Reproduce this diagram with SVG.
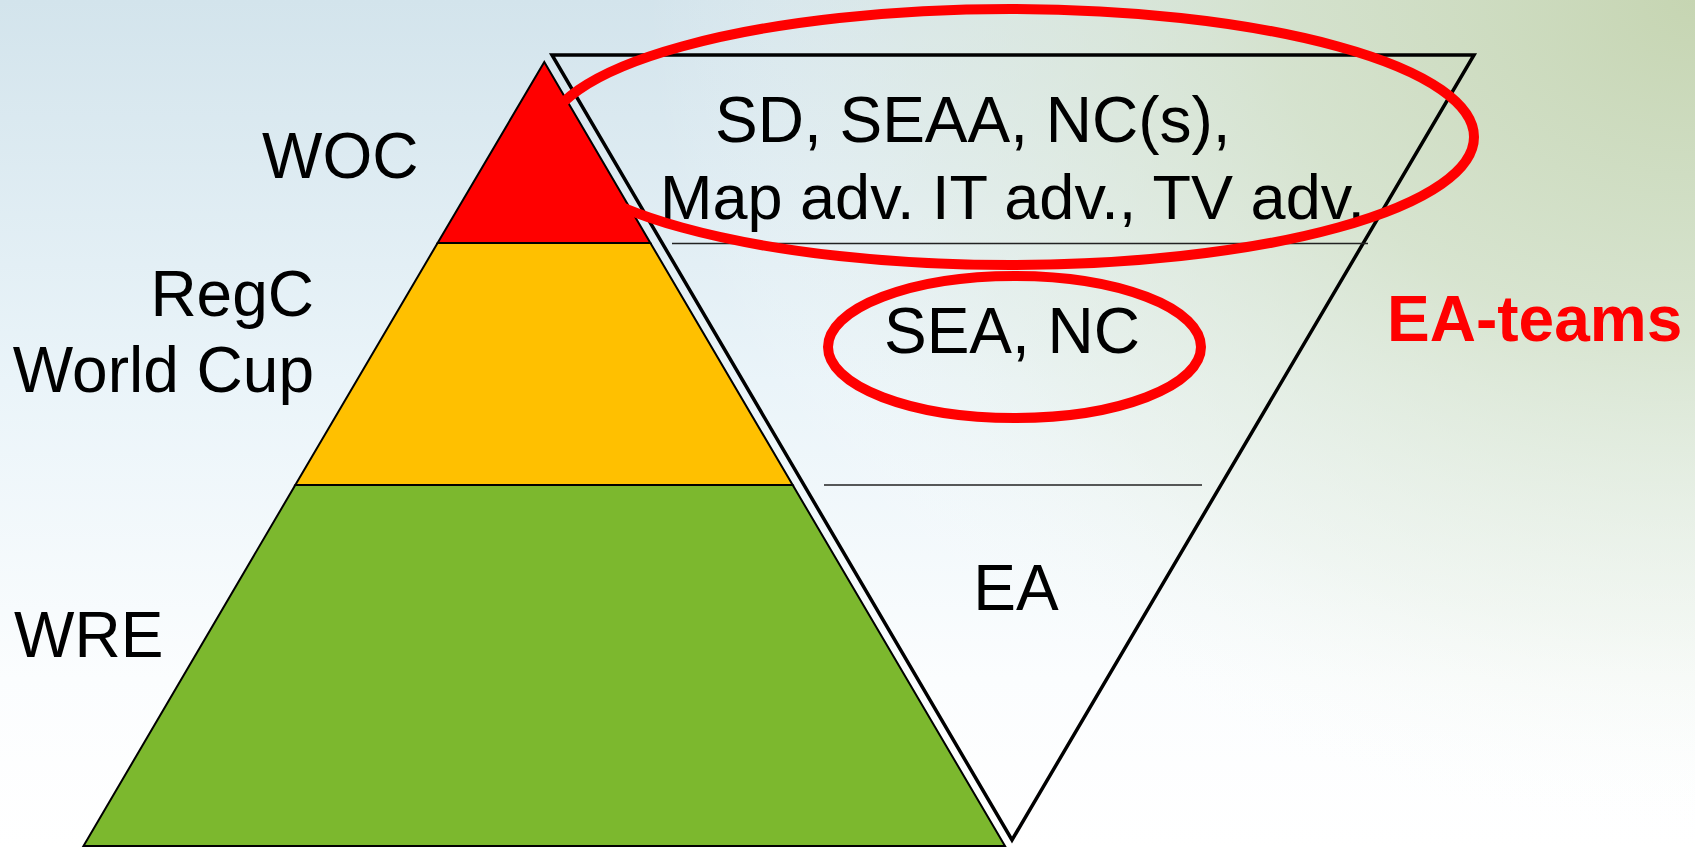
<svg xmlns="http://www.w3.org/2000/svg" width="1695" height="848" viewBox="0 0 1695 848">
  <defs>
    <linearGradient id="bgv" x1="0" y1="0" x2="0" y2="848" gradientUnits="userSpaceOnUse">
      <stop offset="0" stop-color="#d3e4ec"/>
      <stop offset="0.45" stop-color="#eaf4f9"/>
      <stop offset="0.8" stop-color="#fbfdfe"/>
      <stop offset="1" stop-color="#ffffff"/>
    </linearGradient>
    <radialGradient id="bgg" cx="1695" cy="0" r="1050" gradientUnits="userSpaceOnUse" gradientTransform="translate(1695 0) scale(1 0.8) translate(-1695 0)">
      <stop offset="0" stop-color="#c6d5b2" stop-opacity="1"/>
      <stop offset="0.4" stop-color="#d4e1c6" stop-opacity="0.8"/>
      <stop offset="0.75" stop-color="#e6eedd" stop-opacity="0.35"/>
      <stop offset="1" stop-color="#ffffff" stop-opacity="0"/>
    </radialGradient>
    <style>
      .band { stroke: #000; stroke-width: 2; stroke-linejoin: miter; }
      .inv { fill: none; stroke: #000; stroke-width: 3.5; stroke-linejoin: miter; }
      .div { stroke: #222; stroke-width: 1.5; fill: none; }
      .txt { font-family: "Liberation Sans", Arial, sans-serif; font-size: 64px; fill: #000; }
      .ring { fill: none; stroke: #ff0000; stroke-width: 10; }
      .red { font-family: "Liberation Sans", Arial, sans-serif; font-size: 64px; font-weight: bold; fill: #ff0000; }
    </style>
  </defs>

  <g id="background">
    <rect x="0" y="0" width="1695" height="848" fill="url(#bgv)"/>
    <rect x="0" y="0" width="1695" height="848" fill="url(#bgg)"/>
  </g>

  <g id="pyramid">
    <polygon id="band-wre" class="band" fill="#7cb82e" points="295.3,485 792.7,485 1005,846 83.5,846"/>
    <polygon id="band-regc" class="band" fill="#ffc000" points="437.6,243 650.4,243 792.7,485 295.3,485"/>
    <polygon id="band-woc" class="band" fill="#ff0000" points="544.3,62 650.4,243 437.6,243"/>
  </g>

  <g id="inverted-triangle">
    <polygon class="inv" points="552,55 1474,55 1012,840"/>
  </g>

  <g id="dividers">
    <line class="div" x1="672" y1="243.5" x2="1368" y2="243.5"/>
    <line class="div" x1="824" y1="485" x2="1202" y2="485"/>
  </g>

  <g id="pyramid-labels">
    <text id="label-woc" class="txt" x="262" y="178">WOC</text>
    <text id="label-regc" class="txt" x="314" y="316" text-anchor="end">RegC</text>
    <text id="label-worldcup" class="txt" x="314" y="392" text-anchor="end">World Cup</text>
    <text id="label-wre" class="txt" x="14" y="657">WRE</text>
  </g>

  <g id="team-labels">
    <text id="label-top1" class="txt" x="715" y="142">SD, SEAA, NC(s),</text>
    <text id="label-top2" class="txt" x="660" y="219" font-size="63" style="font-size:63px">Map adv. IT adv., TV adv.</text>
    <text id="label-mid" class="txt" x="1012" y="353" text-anchor="middle">SEA, NC</text>
    <text id="label-ea" class="txt" x="1016" y="610" text-anchor="middle">EA</text>
  </g>

  <g id="highlights">
    <ellipse id="ring-top" class="ring" cx="1010" cy="137" rx="464" ry="128"/>
    <ellipse id="ring-mid" class="ring" cx="1014.5" cy="347" rx="186.5" ry="71"/>
  </g>

  <g id="ea-teams">
    <text class="red" x="1387" y="341">EA-teams</text>
  </g>
</svg>
